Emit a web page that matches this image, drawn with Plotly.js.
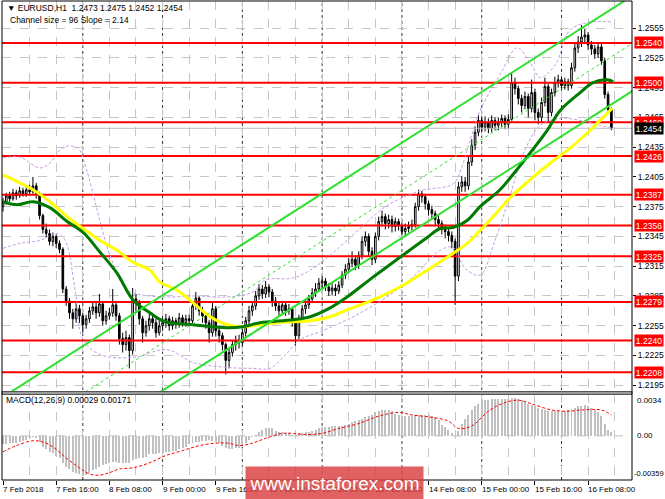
<!DOCTYPE html>
<html><head><meta charset="utf-8">
<script src="https://cdn.plot.ly/plotly-3.0.1.min.js"></script>
<style>html,body{margin:0;padding:0;background:#fff;}#chart{width:665px;height:499px;}</style>
</head><body><div id="chart"></div>
<script>
// ---------- DATA ----------
const symbolTitle = "\u25BC EURUSD,H1\u00a0\u00a01.2473 1.2475 1.2452 1.2454";
const channelText = "Channel size = 96 Slope = 2.14";
const macdText = "MACD(12,26,9) 0.00029 0.00171";

const opens = [1.2375,1.2380,1.2386,1.2383,1.2389,1.2386,1.2391,1.2388,1.2392,1.2390,
1.2396,1.2388,1.2366,1.2352,1.2348,1.2340,1.2345,1.2338,1.2332,1.2292,
1.2280,1.2268,1.2262,1.2272,1.2265,1.2256,1.2262,1.2270,1.2274,1.2268,
1.2277,1.2260,1.2265,1.2268,1.2276,1.2265,1.2242,1.2236,1.2243,1.2230,
1.2282,1.2278,1.2262,1.2248,1.2255,1.2262,1.2258,1.2248,1.2255,1.2258,
1.2262,1.2255,1.2260,1.2257,1.2263,1.2258,1.2262,1.2260,1.2275,1.2283,
1.2270,1.2265,1.2258,1.2248,1.2272,1.2250,1.2245,1.2236,1.2220,1.2228,
1.2236,1.2240,1.2238,1.2248,1.2260,1.2270,1.2275,1.2285,1.2292,1.2287,
1.2294,1.2289,1.2280,1.2275,1.2270,1.2276,1.2270,1.2272,1.2260,1.2245,
1.2262,1.2272,1.2276,1.2282,1.2288,1.2292,1.2298,1.2300,1.2294,1.2290,
1.2293,1.2290,1.2296,1.2306,1.2312,1.2318,1.2322,1.2316,1.2326,1.2340,
1.2345,1.2330,1.2322,1.2345,1.2360,1.2365,1.2358,1.2362,1.2355,1.2360,
1.2356,1.2350,1.2353,1.2355,1.2357,1.2375,1.2388,1.2385,1.2378,1.2372,
1.2368,1.2362,1.2358,1.2352,1.2350,1.2346,1.2340,1.2305,1.2395,1.2400,
1.2396,1.2420,1.2437,1.2450,1.2462,1.2455,1.2460,1.2454,1.2462,1.2457,
1.2460,1.2464,1.2458,1.2463,1.2500,1.2494,1.2484,1.2477,1.2486,1.2474,
1.2490,1.2470,1.2465,1.2480,1.2496,1.2470,1.2490,1.2500,1.2503,1.2497,
1.2501,1.2497,1.2515,1.2535,1.2541,1.2546,1.2548,1.2538,1.2534,1.2529,
1.2536,1.2522,1.2488,1.2473];
const highs = [1.2384,1.2389,1.2390,1.2393,1.2392,1.2395,1.2394,1.2396,1.2397,1.2405,
1.2399,1.2390,1.2368,1.2358,1.2352,1.2349,1.2347,1.2341,1.2334,1.2295,
1.2283,1.2272,1.2278,1.2276,1.2268,1.2266,1.2274,1.2279,1.2278,1.2287,
1.2279,1.2270,1.2273,1.2292,1.2279,1.2268,1.2248,1.2250,1.2246,1.2293,
1.2287,1.2281,1.2265,1.2260,1.2267,1.2266,1.2262,1.2260,1.2263,1.2267,
1.2265,1.2264,1.2263,1.2268,1.2266,1.2266,1.2266,1.2279,1.2289,1.2285,
1.2274,1.2268,1.2261,1.2278,1.2275,1.2254,1.2248,1.2238,1.2233,1.2240,
1.2245,1.2246,1.2252,1.2264,1.2275,1.2280,1.2290,1.2297,1.2296,1.2300,
1.2297,1.2292,1.2284,1.2279,1.2280,1.2279,1.2277,1.2274,1.2263,1.2266,
1.2276,1.2281,1.2286,1.2293,1.2298,1.2303,1.2305,1.2303,1.2298,1.2298,
1.2297,1.2300,1.2310,1.2317,1.2323,1.2330,1.2326,1.2330,1.2345,1.2350,
1.2348,1.2334,1.2349,1.2365,1.2371,1.2368,1.2367,1.2366,1.2364,1.2363,
1.2359,1.2358,1.2360,1.2362,1.2379,1.2392,1.2391,1.2388,1.2381,1.2376,
1.2371,1.2366,1.2361,1.2357,1.2354,1.2350,1.2343,1.2400,1.2406,1.2405,
1.2426,1.2443,1.2456,1.2467,1.2466,1.2466,1.2464,1.2467,1.2465,1.2465,
1.2468,1.2467,1.2468,1.2510,1.2505,1.2497,1.2488,1.2491,1.2489,1.2503,
1.2494,1.2474,1.2485,1.2505,1.2499,1.2494,1.2506,1.2508,1.2506,1.2505,
1.2504,1.2520,1.2540,1.2547,1.2558,1.2554,1.2551,1.2542,1.2538,1.2541,
1.2539,1.2525,1.2491,1.2475];
const lows = [1.2370,1.2377,1.2380,1.2381,1.2382,1.2384,1.2385,1.2385,1.2386,1.2388,
1.2383,1.2362,1.2348,1.2344,1.2336,1.2335,1.2333,1.2328,1.2288,1.2275,
1.2262,1.2252,1.2258,1.2258,1.2248,1.2252,1.2258,1.2266,1.2262,1.2264,
1.2255,1.2256,1.2261,1.2264,1.2260,1.2236,1.2228,1.2230,1.2212,1.2226,
1.2270,1.2256,1.2238,1.2244,1.2250,1.2252,1.2243,1.2245,1.2250,1.2253,
1.2250,1.2251,1.2252,1.2253,1.2254,1.2254,1.2255,1.2257,1.2271,1.2265,
1.2258,1.2252,1.2238,1.2244,1.2244,1.2238,1.2230,1.2206,1.2212,1.2224,
1.2230,1.2232,1.2234,1.2244,1.2256,1.2265,1.2271,1.2281,1.2282,1.2283,
1.2284,1.2274,1.2270,1.2265,1.2266,1.2265,1.2266,1.2254,1.2235,1.2241,
1.2258,1.2267,1.2272,1.2278,1.2284,1.2289,1.2293,1.2290,1.2285,1.2286,
1.2285,1.2287,1.2293,1.2302,1.2308,1.2314,1.2311,1.2312,1.2322,1.2335,
1.2325,1.2316,1.2318,1.2341,1.2355,1.2352,1.2353,1.2349,1.2350,1.2351,
1.2346,1.2346,1.2349,1.2351,1.2354,1.2371,1.2379,1.2372,1.2366,1.2362,
1.2356,1.2352,1.2347,1.2343,1.2340,1.2333,1.2276,1.2300,1.2390,1.2390,
1.2392,1.2416,1.2432,1.2446,1.2450,1.2451,1.2449,1.2450,1.2452,1.2452,
1.2455,1.2453,1.2454,1.2460,1.2488,1.2478,1.2470,1.2473,1.2465,1.2470,
1.2462,1.2458,1.2460,1.2476,1.2460,1.2466,1.2486,1.2495,1.2492,1.2493,
1.2492,1.2494,1.2511,1.2530,1.2536,1.2540,1.2533,1.2528,1.2524,1.2525,
1.2518,1.2484,1.2469,1.2452];
const closes = [1.2380,1.2386,1.2383,1.2389,1.2386,1.2391,1.2388,1.2392,1.2390,1.2396,
1.2388,1.2366,1.2352,1.2348,1.2340,1.2345,1.2338,1.2332,1.2292,1.2280,
1.2268,1.2262,1.2272,1.2265,1.2256,1.2262,1.2270,1.2274,1.2268,1.2277,
1.2260,1.2265,1.2268,1.2276,1.2265,1.2242,1.2236,1.2243,1.2230,1.2282,
1.2278,1.2262,1.2248,1.2255,1.2262,1.2258,1.2248,1.2255,1.2258,1.2262,
1.2255,1.2260,1.2257,1.2263,1.2258,1.2262,1.2260,1.2275,1.2283,1.2270,
1.2265,1.2258,1.2248,1.2272,1.2250,1.2245,1.2236,1.2220,1.2228,1.2236,
1.2240,1.2238,1.2248,1.2260,1.2270,1.2275,1.2285,1.2292,1.2287,1.2294,
1.2289,1.2280,1.2275,1.2270,1.2276,1.2270,1.2272,1.2260,1.2245,1.2262,
1.2272,1.2276,1.2282,1.2288,1.2292,1.2298,1.2300,1.2294,1.2290,1.2293,
1.2290,1.2296,1.2306,1.2312,1.2318,1.2322,1.2316,1.2326,1.2340,1.2345,
1.2330,1.2322,1.2345,1.2360,1.2365,1.2358,1.2362,1.2355,1.2360,1.2356,
1.2350,1.2353,1.2355,1.2357,1.2375,1.2388,1.2385,1.2378,1.2372,1.2368,
1.2362,1.2358,1.2352,1.2350,1.2346,1.2340,1.2305,1.2395,1.2400,1.2396,
1.2420,1.2437,1.2450,1.2462,1.2455,1.2460,1.2454,1.2462,1.2457,1.2460,
1.2464,1.2458,1.2463,1.2500,1.2494,1.2484,1.2477,1.2486,1.2474,1.2490,
1.2470,1.2465,1.2480,1.2496,1.2470,1.2490,1.2500,1.2503,1.2497,1.2501,
1.2497,1.2515,1.2535,1.2541,1.2546,1.2548,1.2538,1.2534,1.2529,1.2536,
1.2522,1.2488,1.2473,1.2454];

// MACD main (histogram) per bar
const macdHist = [-0.0007,-0.0007,-0.0006,-0.0006,-0.0006,-0.0005,-0.0004,-0.0003,-0.0002,-0.0001,
-0.0002,-0.0005,-0.0009,-0.0011,-0.0013,-0.0014,-0.0016,-0.0018,-0.0022,-0.0025,
-0.0027,-0.0029,-0.0030,-0.0031,-0.0033,-0.0032,-0.0030,-0.0028,-0.0027,-0.0025,
-0.0024,-0.0023,-0.0022,-0.0021,-0.0021,-0.0022,-0.0022,-0.0022,-0.0022,-0.0020,
-0.0019,-0.0018,-0.0018,-0.0017,-0.0015,-0.0015,-0.0015,-0.0014,-0.0014,-0.0013,
-0.0013,-0.0012,-0.0012,-0.0011,-0.0010,-0.0009,-0.0007,-0.0006,-0.0005,-0.0005,
-0.0004,-0.0004,-0.0003,-0.0004,-0.0005,-0.0006,-0.0008,-0.0010,-0.0011,-0.0011,
-0.0010,-0.0010,-0.0008,-0.0006,-0.0003,-0.0001,0.0001,0.0003,0.0005,0.0006,
0.0006,0.0006,0.0004,0.0003,0.0003,0.0002,0.0002,0.0001,0.0001,0.0002,
0.0002,0.0003,0.0003,0.0004,0.0005,0.0006,0.0007,0.0007,0.0007,0.0008,
0.0008,0.0008,0.0008,0.0009,0.0010,0.0011,0.0012,0.0013,0.0014,0.0015,
0.0016,0.0017,0.0019,0.0020,0.0021,0.0021,0.0021,0.0020,0.0018,0.0017,
0.0016,0.0016,0.0016,0.0016,0.0017,0.0017,0.0017,0.0017,0.0017,0.0016,
0.0015,0.0013,0.0009,0.0007,0.0005,0.0002,0.0001,0.0004,0.0010,0.0014,
0.0017,0.0021,0.0024,0.0026,0.0028,0.0029,0.0029,0.0030,0.0030,0.0030,
0.0030,0.0030,0.0030,0.0031,0.0031,0.0030,0.0029,0.0028,0.0026,0.0025,
0.0024,0.0023,0.0022,0.0021,0.0020,0.0020,0.0020,0.0020,0.0020,0.0020,
0.0021,0.0022,0.0023,0.0024,0.0024,0.0025,0.0024,0.0023,0.0021,0.0019,
0.0016,0.0010,0.0005,0.0003];

// MACD signal line (read at sample bars)
const signalBars = [0,4,9,12,15,19,23,26,29,32,35,39,44,49,54,59,64,68,71,75,79,84,87,91,96,101,107,113,119,123,129,134,137,141,146,150,155,159,165,170,174,180,183];
const signalVals = [-0.0013,-0.0008,-0.0004,-0.0005,-0.0009,-0.0018,-0.0026,-0.0031,-0.0032,-0.0030,-0.0027,-0.0026,-0.0022,-0.0016,-0.0012,-0.0008,-0.0006,-0.0006,-0.0008,-0.0006,-0.0002,0.0002,0.0002,0.0001,0.0002,0.0006,0.0010,0.0016,0.0019,0.0017,0.0015,0.0012,0.0006,0.0008,0.0020,0.0026,0.0029,0.0026,0.0021,0.0020,0.0021,0.0021,0.0017];

// Moving averages (read at sample bars)
const maSlowBars = [0,9,14.1,19.3,24.1,29.2,34.3,39.1,44.2,47.2,52.3,57.2,62.3,67.4,72.2,77.3,82.4,87.2,92.4,98.4,103.5,111.3,119.4,127.6,135.4,139.6,143.5,148,152.5,158.5,164.6,170.6,176.6,179.6,183.2];
const maSlowVals = [1.2407,1.2392,1.2380,1.2365,1.2353,1.2341,1.2331,1.2319,1.2311,1.2299,1.2291,1.2278,1.2264,1.2256,1.2254,1.2256,1.2258,1.2259,1.2260,1.2264,1.2271,1.2281,1.2294,1.2311,1.2328,1.2338,1.2351,1.2367,1.2384,1.2402,1.2419,1.2434,1.2452,1.2462,1.2474];
const maFastBars = [0,4.2,9,14.1,19.3,24.1,29.2,34.3,39.1,44.2,48.7,57.2,67.4,72.2,77.3,87.2,92.4,98.4,103.5,111.3,119.4,127.6,131.5,135.4,139.6,143.5,149.5,154,157.6,163.7,167.6,173.6,177.5,181.7,183.5];
const maFastVals = [1.2380,1.2377,1.2380,1.2374,1.2360,1.2349,1.2329,1.2308,1.2281,1.2268,1.2259,1.2256,1.2253,1.2254,1.2258,1.2261,1.2264,1.2273,1.2284,1.2304,1.2324,1.2344,1.2353,1.2354,1.2361,1.2375,1.2392,1.2410,1.2425,1.2452,1.2472,1.2490,1.2500,1.2503,1.2501];

// Bollinger bands (read at sample bars)
const bbUpperBars = [0,5.1,11.1,14.1,17.1,19.3,22.6,24.7,26.8,29.2,32.2,37.3,44.2,50.2,57.2,67.4,75.2,78.8,87.2,92.4,98.4,107.4,115.5,125.5,135.4,138.1,140.5,143.5,149.5,154.6,158.5,161.6,166.1,170.6,176.6,183.5];
const bbUpperVals = [1.2424,1.2425,1.2414,1.2419,1.2432,1.2436,1.2434,1.2417,1.2392,1.2360,1.2326,1.2291,1.2285,1.2284,1.2285,1.2284,1.2289,1.2301,1.2303,1.2311,1.2326,1.2353,1.2376,1.2391,1.2398,1.2416,1.2442,1.2472,1.2508,1.2535,1.2521,1.2505,1.2518,1.2553,1.2561,1.2561];
const bbLowerBars = [0,5.1,11.1,16.2,18.7,21.7,24.1,29.2,39.1,49.3,57.2,67.4,75.2,80.3,84.8,89.4,95.4,105.3,115.5,123.3,131.5,135.4,139,143.5,148,152.5,157,161.6,167.6,173.6,179.6,183.5];
const bbLowerVals = [1.2333,1.2338,1.2341,1.2348,1.2341,1.2291,1.2241,1.2226,1.2223,1.2231,1.2218,1.2213,1.2212,1.2212,1.2225,1.2241,1.2249,1.2264,1.2284,1.2304,1.2331,1.2334,1.2313,1.2306,1.2341,1.2386,1.2432,1.2457,1.2464,1.2462,1.2457,1.2454];

// Regression channel end points
const channelBars = [-1, 190];
const channelUpper = [1.2181, 1.2589];
const channelMiddle = [1.2133, 1.2541];
const channelLower = [1.2085, 1.2493];

// Horizontal levels (red lines) and current price
const levels = [1.2540, 1.2500, 1.2460, 1.2426, 1.2387, 1.2356, 1.2325, 1.2279, 1.2240, 1.2208];
const currentPrice = 1.2454;

// Axis ticks
const priceTicks = [1.2555,1.2525,1.2495,1.2465,1.2435,1.2405,1.2375,1.2345,1.2315,1.2285,1.2255,1.2225,1.2195];
const timeTickBars = [0,16,32,48,64,80,96,112,128,144,160,176];
const timeTickLabels = ["7 Feb 2018","7 Feb 16:00","8 Feb 08:00","9 Feb 00:00","9 Feb 16:00","12 Feb 08:00","13 Feb 00:00","13 Feb 16:00","14 Feb 08:00","15 Feb 00:00","15 Feb 16:00","16 Feb 08:00"];
const daySeparatorBars = [24,48,72,96,120,144,168];
const macdAxisLabels = ["0.0034","0.00","-0.00359"];
const macdAxisValues = [0.0034, 0, -0.00359];
const watermark = "www.instaforex.com";

// ---------- LAYOUT HELPERS ----------
const W=665, H=499, ML=2, MR=33, MT=1, MB=19;
const plotH = H-MT-MB, plotW = W-ML-MR;
const py = p => (H-MB-p)/plotH;   // pixel row -> paper y
const FONT = "'Liberation Sans',Arial,sans-serif";
const FS = 8.5;
const bars = closes.map((_, i) => i);

const traces = [];
levels.forEach(lv => traces.push({x: channelBars, y: [lv, lv], type:'scatter', mode:'lines',
  line:{color:'#ff0000', width:2}, hoverinfo:'skip', showlegend:false, xaxis:'x', yaxis:'y'}));
traces.push({x: channelBars, y:[currentPrice, currentPrice], type:'scatter', mode:'lines',
  line:{color:'#bdbdbd', width:1}, hoverinfo:'skip', showlegend:false});
traces.push({type:'candlestick', x: bars, open: opens, high: highs, low: lows, close: closes,
  increasing:{line:{color:'#000000', width:1}, fillcolor:'#ffffff'},
  decreasing:{line:{color:'#000000', width:1}, fillcolor:'#000000'},
  whiskerwidth:0, hoverinfo:'skip', showlegend:false, xaxis:'x', yaxis:'y'});
[[bbUpperBars, bbUpperVals],[bbLowerBars, bbLowerVals]].forEach(b => traces.push({
  x:b[0], y:b[1], type:'scatter', mode:'lines', line:{color:'#c69be6', width:1, dash:'3px,2px', shape:'spline'},
  hoverinfo:'skip', showlegend:false}));
traces.push({x: maSlowBars, y: maSlowVals, type:'scatter', mode:'lines',
  line:{color:'#ffff00', width:3, shape:'spline'}, hoverinfo:'skip', showlegend:false});
traces.push({x: maFastBars, y: maFastVals, type:'scatter', mode:'lines',
  line:{color:'#007a00', width:3, shape:'spline'}, hoverinfo:'skip', showlegend:false});
traces.push({x: channelBars, y: channelUpper, type:'scatter', mode:'lines', line:{color:'#2fe02f', width:2}, hoverinfo:'skip', showlegend:false});
traces.push({x: channelBars, y: channelLower, type:'scatter', mode:'lines', line:{color:'#2fe02f', width:2}, hoverinfo:'skip', showlegend:false});
traces.push({x: channelBars, y: channelMiddle, type:'scatter', mode:'lines', line:{color:'#2fe02f', width:1, dash:'3px,3px'}, hoverinfo:'skip', showlegend:false});
traces.push({x: bars, y: macdHist, type:'bar', width:0.6, marker:{color:'#c0c0c0', line:{width:0}},
  hoverinfo:'skip', showlegend:false, xaxis:'x', yaxis:'y2'});
traces.push({x: signalBars, y: signalVals, type:'scatter', mode:'lines',
  line:{color:'#ff0000', width:1, dash:'3px,2px', shape:'spline'}, hoverinfo:'skip', showlegend:false, xaxis:'x', yaxis:'y2'});

const shapes = [];
shapes.push({type:'line', xref:'paper', yref:'y2', x0:0, x1:1, y0:0, y1:0, line:{color:'#c0c0c0', width:1, dash:'dash'}, layer:'below'});
daySeparatorBars.forEach(b => shapes.push({type:'line', xref:'x', yref:'paper', x0:b, x1:b, y0:0, y1:1,
  line:{color:'#333333', width:1, dash:'dot'}, layer:'below'}));
shapes.push({type:'rect', xref:'paper', yref:'paper', x0:0, x1:1, y0:py(394.5), y1:py(391.5),
  fillcolor:'#9a9a9a', line:{color:'#555555', width:1}});
shapes.push({type:'rect', xref:'paper', yref:'paper', x0:0, x1:1, y0:0, y1:1, line:{color:'#000000', width:1}, fillcolor:'rgba(0,0,0,0)'});

const annotations = [];
const txt = (text, xpx, ypx, size) => ({text, xref:'paper', yref:'paper',
  x:(xpx-ML)/plotW, y:py(ypx), xanchor:'left', yanchor:'middle', showarrow:false,
  font:{family:FONT, size:size, color:'#000'}});
annotations.push(txt(symbolTitle, 5, 8, FS));
annotations.push(txt(channelText, 8, 20, FS));
annotations.push(txt(macdText, 4, 400, FS));
timeTickBars.forEach((b, k) => annotations.push({text: timeTickLabels[k], xref:'x', yref:'paper', x:b, y:py(489),
  xanchor:'left', yanchor:'middle', xshift:-2, showarrow:false, font:{family:FONT, size:8, color:'#000'}}));
levels.forEach(lv => annotations.push({text: lv.toFixed(4), xref:'paper', yref:'y', x:1, y:lv, xanchor:'left', yanchor:'middle',
  xshift:2, showarrow:false, bgcolor:'#ff0000', borderpad:0, width:28, height:11, font:{family:FONT, size:FS, color:'#ffffff'}}));
annotations.push({text: currentPrice.toFixed(4), xref:'paper', yref:'y', x:1, y:currentPrice, xanchor:'left', yanchor:'middle',
  xshift:2, showarrow:false, bgcolor:'#000000', borderpad:0, width:28, height:11, font:{family:FONT, size:FS, color:'#ffffff'}});
macdAxisValues.forEach((v, k) => annotations.push({text: macdAxisLabels[k], xref:'paper', yref:'y2', x:1, y:v, xanchor:'left',
  yanchor: k===0 ? 'top' : (k===2 ? 'bottom' : 'middle'), xshift: k===2 ? 0 : 3, showarrow:false,
  font:{family:FONT, size: k===2 ? 7.5 : 8, color:'#000'}}));
annotations.push({text: watermark, xref:'paper', yref:'paper', x:(245-ML)/plotW, y:py(500), xanchor:'left', yanchor:'bottom',
  showarrow:false, bgcolor:'rgba(216,62,62,0.82)', width:177, height:32, borderpad:0,
  font:{family:"'Liberation Sans',Arial,sans-serif", size:19, color:'#ffffff'}});

const layout = {
  width:W, height:H, margin:{l:ML, r:MR, t:MT, b:MB, pad:0},
  paper_bgcolor:'#ffffff', plot_bgcolor:'#ffffff', showlegend:false, dragmode:false, hovermode:false,
  bargap:0,
  xaxis:{range:[-0.3,189.2], anchor:'y2', domain:[0,1], showgrid:true, gridcolor:'#c6c6c6', griddash:'dash', gridwidth:1,
    tickmode:'array', tickvals: timeTickBars, ticks:'outside', ticklen:4, tickcolor:'#000', showticklabels:false,
    zeroline:false, showline:false, rangeslider:{visible:false}, fixedrange:true,
    minor:{tickmode:'linear', tick0:0, dtick:8, showgrid:true, gridcolor:'#c6c6c6', griddash:'dash', gridwidth:1, ticks:''}},
  yaxis:{domain:[py(392),1], range:[1.21882,1.25823], side:'right', anchor:'x', tickmode:'array', tickvals:priceTicks,
    ticktext: priceTicks.map(v => v.toFixed(4)), ticks:'outside', ticklen:3, tickcolor:'#000',
    showgrid:true, gridcolor:'#c6c6c6', griddash:'dash', gridwidth:1, zeroline:false, showline:false,
    tickfont:{family:FONT, size:FS, color:'#000'}, fixedrange:true},
  yaxis2:{domain:[0,py(394)], range:[-0.00359,0.0034], side:'right', anchor:'x', showgrid:false, zeroline:false,
    showticklabels:false, ticks:'', showline:false, fixedrange:true},
  shapes, annotations
};
Plotly.newPlot('chart', traces, layout, {staticPlot:true, displayModeBar:false});
</script></body></html>
